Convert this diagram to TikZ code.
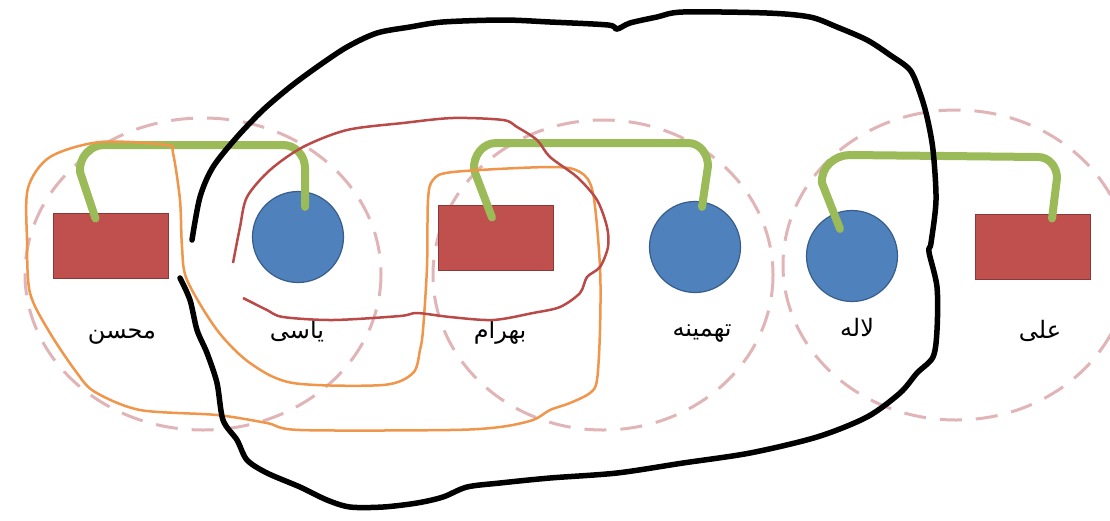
\documentclass[tikz,border=0pt]{standalone}
\usepackage{fontspec}
\newfontfamily\arabicfont[Script=Arabic]{DejaVu Sans}
\TeXXeTstate=1
\definecolor{rectfill}{HTML}{C0504D}
\definecolor{rectdraw}{HTML}{8C3836}
\definecolor{circfill}{HTML}{4F81BD}
\definecolor{circdraw}{HTML}{385D8A}
\definecolor{linkgreen}{HTML}{9BBB59}
\definecolor{loopor}{HTML}{F0964A}
\definecolor{loopred}{HTML}{B94A48}
\definecolor{dashpink}{RGB}{225,180,184}
\begin{document}
\begin{tikzpicture}[x=1pt,y=-1pt,
  rectnode/.style={draw=rectdraw,fill=rectfill,line width=1pt,minimum width=115pt,minimum height=65pt,inner sep=0pt},
  circnode/.style={circle,draw=circdraw,fill=circfill,line width=1.2pt,minimum size=91pt,inner sep=0pt},
  lbl/.style={anchor=base,font=\arabicfont\fontsize{24}{28}\selectfont,inner sep=0pt},
  group/.style={draw=dashpink,line width=3pt,dash pattern=on 22pt off 14pt},
  link/.style={draw=linkgreen,line width=8pt,line cap=round,line join=round},
  orloop/.style={draw=loopor,line width=2.5pt},
  redloop/.style={draw=loopred,line width=2.5pt},
  blob/.style={draw=black,line width=5.5pt,line cap=round}]
\useasboundingbox (0,0) rectangle (1110,520);
\clip (0,0) rectangle (1110,520);
\fill[white] (0,0) rectangle (1110,520);

% dashed groups
\draw[group] (203,274) ellipse [x radius=178, y radius=156];
\draw[group] (603,275) ellipse [x radius=170, y radius=155];
\draw[group] (956,265) ellipse [x radius=173, y radius=155];

% people
\node[rectnode] (m) at (110.5,245.5) {};
\node[circnode] (y) at (298,237) {};
\node[rectnode] (b) at (496,237.5) {};
\node[circnode] (t) at (695,247) {};
\node[circnode] (l) at (852,256) {};
\node[rectnode] (a) at (1032.5,246.5) {};

% labels
\node[lbl] (lm) at (122,338) {\beginR محسن\endR};
\node[lbl] (ly) at (297,338) {\beginR یاسی\endR};
\node[lbl] (lb) at (500,338) {\beginR بهرام\endR};
\node[lbl] (lt) at (702,336) {\beginR تهمینه\endR};
\node[lbl] (ll) at (857,336) {\beginR لاله\endR};
\node[lbl] (la) at (1040,338) {\beginR علی\endR};

% green links
\draw[link] ([xshift=-15pt,yshift=-6pt]m.north) -- (80,172) to[out=95,in=180] (104,145) -- (283,145) to[out=0,in=90] (305,168) -- ([xshift=7pt,yshift=-16pt]y.north);
\draw[link] ([xshift=-4pt,yshift=-13pt]b.north) -- (474,170) to[out=95,in=180] (496,143) -- (688,143) to[out=0,in=90] (708,166) -- ([xshift=7pt,yshift=-6pt]t.north);
\draw[link] ([xshift=-12pt,yshift=-19pt]l.north) -- (822,183) to[out=95,in=180] (850,155) -- (1038,157) to[out=0,in=90] (1057,178) -- ([xshift=19.5pt,yshift=-5pt]a.north);

% orange loop
\draw[orloop] plot[smooth cycle,tension=0.5] coordinates {
 (167,145) (100,142) (50,157) (28,188) (27,240) (30,293) (50,333) (77,373) (95,392) (140,410)
 (217,415) (267,423) (300,430) (450,430) (500,427) (533,420) (550,410) (570,403) (590,393)
 (597,380) (600,330) (600,267) (593,193) (580,172) (550,167) (453,172) (433,180) (428,200)
 (427,267) (423,330) (420,350) (413,373) (383,385) (293,383) (250,363) (217,330) (187,280)
 (182,247) (180,200) (173,153)};

% red loop
\draw[redloop] plot[smooth,tension=0.5] coordinates {
 (233,263) (240,227) (247,197) (270,170) (303,147) (347,130) (403,123) (453,118) (503,120)
 (517,127) (537,140) (550,157) (577,177) (597,200) (607,227) (608,247) (600,267) (587,277)
 (580,293) (560,307) (533,313) (493,320) (450,317) (417,313) (400,316) (333,320) (283,317)
 (267,310) (253,303) (243,298)};

% black outline
\draw[blob] plot[smooth,tension=0.5] coordinates {
 (192,240) (200,197) (213,167) (237,137) (263,110) (290,87) (317,67) (347,47) (377,33)
 (410,27) (443,22) (503,20) (550,22) (608,25) (617,29) (630,23) (657,17) (683,12) (767,13)
 (810,17) (837,27) (867,40) (890,55) (910,70) (920,93) (927,117) (933,150) (936,200)
 (931,243) (929,252) (937,287) (937,330) (933,357) (917,373) (900,393) (867,417) (817,437)
 (750,453) (683,463) (617,473) (550,478) (500,483) (467,487) (443,497) (417,503) (383,507)
 (350,507) (327,500) (300,487) (267,473) (247,460) (237,440) (223,420) (217,383) (207,353)
 (197,330) (190,300) (180,278)};
\end{tikzpicture}
\end{document}
